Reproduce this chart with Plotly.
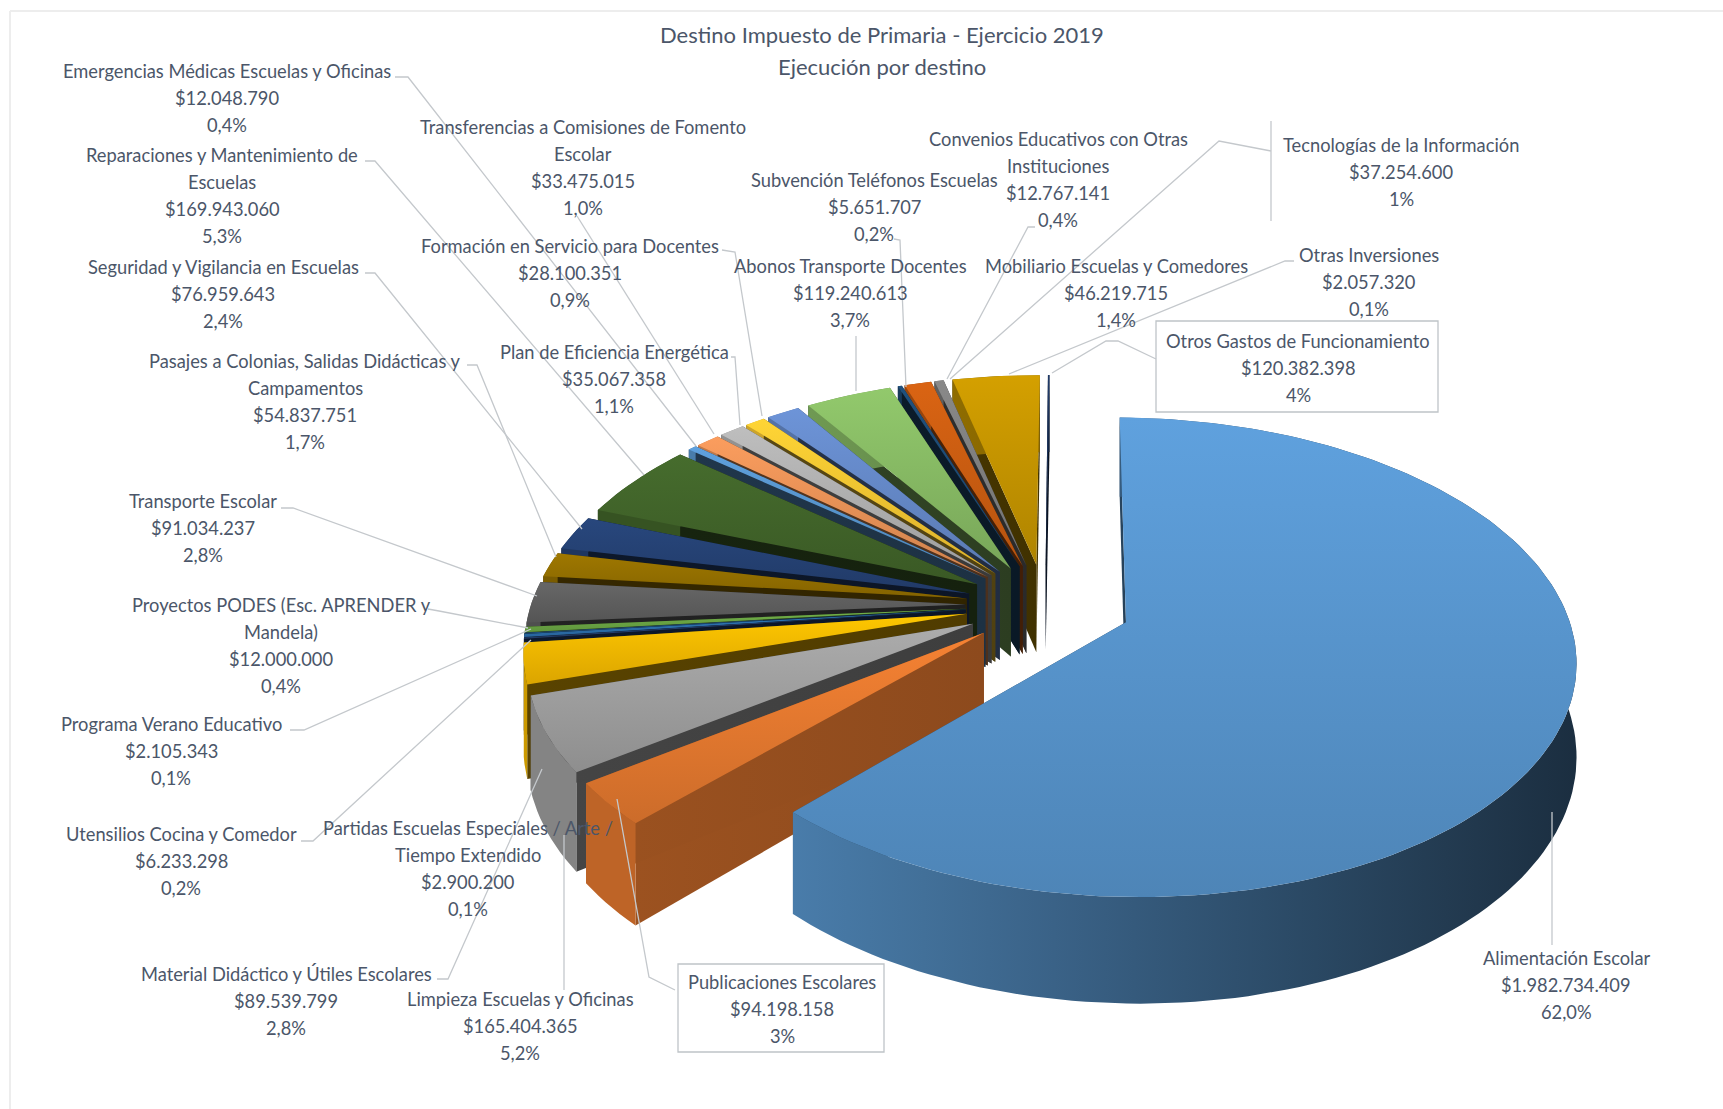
import math
import plotly.graph_objects as go

# ---- data ----
names = ["Alimentación Escolar", "Publicaciones Escolares", "Limpieza Escuelas y Oficinas",
         "Material Didáctico y Útiles Escolares", "Partidas Escuelas Especiales / Arte / Tiempo Extendido",
         "Utensilios Cocina y Comedor", "Programa Verano Educativo", "Proyectos PODES (Esc. APRENDER y Mandela)",
         "Transporte Escolar", "Pasajes a Colonias, Salidas Didácticas y Campamentos",
         "Seguridad y Vigilancia en Escuelas", "Reparaciones y Mantenimiento de Escuelas",
         "Emergencias Médicas Escuelas y Oficinas", "Transferencias a Comisiones de Fomento Escolar",
         "Plan de Eficiencia Energética", "Formación en Servicio para Docentes",
         "Mobiliario Escuelas y Comedores", "Abonos Transporte Docentes", "Subvención Teléfonos Escuelas",
         "Tecnologías de la Información", "Convenios Educativos con Otras Instituciones",
         "Otros Gastos de Funcionamiento", "Otras Inversiones"]
values = [1982734409, 94198158, 165404365, 89539799, 2900200, 6233298, 2105343, 12000000,
          91034237, 54837751, 76959643, 169943060, 12048790, 33475015, 35067358, 28100351,
          46219715, 119240613, 5651707, 37254600, 12767141, 120382398, 2057320]
colors = ["#5B9BD5", "#ED7D31", "#A5A5A5", "#FFC000", "#264478", "#2E75B6", "#255E91", "#70AD47",
          "#636363", "#997300", "#264478", "#43682B", "#5B9BD5", "#F1975A", "#B7B7B7", "#FFCD33",
          "#698ED0", "#8CC168", "#1F4E79", "#D26012", "#848484", "#CC9A00", "#1F3864"]
explode = [0.19] + [0.175] * 22
radius = [0.965] + [0.955] * 22
side_shade = [0.45, 0.66, 0.42] + [0.35] * 20

# label lines: (text lines, centre x, first-line y)
labels = [
    (["Emergencias Médicas Escuelas y Oficinas", "$12.048.790", "0,4%"], 227, 71),
    (["Reparaciones y Mantenimiento de", "Escuelas", "$169.943.060", "5,3%"], 222, 155),
    (["Seguridad y Vigilancia en Escuelas", "$76.959.643", "2,4%"], 223, 267),
    (["Pasajes a Colonias, Salidas Didácticas y", "Campamentos", "$54.837.751", "1,7%"], 305, 361),
    (["Transporte Escolar", "$91.034.237", "2,8%"], 203, 501),
    (["Transferencias a Comisiones de Fomento", "Escolar", "$33.475.015", "1,0%"], 583, 127),
    (["Formación en Servicio para Docentes", "$28.100.351", "0,9%"], 570, 246),
    (["Plan de Eficiencia Energética", "$35.067.358", "1,1%"], 614, 352),
    (["Convenios Educativos con Otras", "Instituciones", "$12.767.141", "0,4%"], 1058, 139),
    (["Tecnologías de la Información", "$37.254.600", "1%"], 1401, 145),
    (["Subvención Teléfonos Escuelas", "$5.651.707", "0,2%"], 874, 180),
    (["Abonos Transporte Docentes", "$119.240.613", "3,7%"], 850, 266),
    (["Mobiliario Escuelas y Comedores", "$46.219.715", "1,4%"], 1116, 266),
    (["Otras Inversiones", "$2.057.320", "0,1%"], 1369, 255),
    (["Otros Gastos de Funcionamiento", "$120.382.398", "4%"], 1298, 341),
    (["Proyectos PODES (Esc. APRENDER y", "Mandela)", "$12.000.000", "0,4%"], 281, 605),
    (["Programa Verano Educativo", "$2.105.343", "0,1%"], 171, 724),
    (["Utensilios Cocina y Comedor", "$6.233.298", "0,2%"], 181, 834),
    (["Partidas Escuelas Especiales / Arte /", "Tiempo Extendido", "$2.900.200", "0,1%"], 468, 828),
    (["Material Didáctico y Útiles Escolares", "$89.539.799", "2,8%"], 286, 974),
    (["Limpieza Escuelas y Oficinas", "$165.404.365", "5,2%"], 520, 999),
    (["Publicaciones Escolares", "$94.198.158", "3%"], 782, 982),
    (["Alimentación Escolar", "$1.982.734.409", "62,0%"], 1566, 958),
]
title_lines = ["Destino Impuesto de Primaria - Ejercicio 2019", "Ejecución por destino"]

# leader line routes
leaders = [
    [(395, 77), (408, 77), (696, 446)],
    [(365, 161), (375, 161), (644, 475)],
    [(365, 273), (375, 273), (582, 529)],
    [(467, 365), (477, 365), (556, 557)],
    [(281, 508), (293, 508), (537, 596)],
    [(577, 216), (714, 434)],
    [(722, 250), (735, 252), (762, 416)],
    [(731, 357), (735, 357), (740, 425)],
    [(856, 336), (856, 391)],
    [(894, 239), (900, 240), (906, 387)],
    [(1035, 227), (1028, 227), (947, 379)],
    [(1271, 151), (1219, 141), (950, 379)],
    [(1294, 261), (1285, 261), (1009, 374)],
    [(1156, 359), (1118, 341), (1106, 341), (1052, 373)],
    [(428, 609), (439, 611), (528, 628)],
    [(290, 730), (304, 730), (531, 629)],
    [(301, 841), (313, 841), (531, 640)],
    [(437, 979), (448, 979), (542, 769)],
    [(564, 990), (564, 835)],
    [(675, 990), (649, 977), (617, 799)],
    [(1552, 945), (1552, 812)],
]

# ---- projection of the tilted pie ----
CX, CY, A, B, K, DEPTH = 1045, 605, 455, 238, 0.15, 90
START = math.radians(0.6)


def project(X, Y):
    s = 1 / (1 + K * Y)
    return CX + A * X * s, CY - B * Y * s, DEPTH * s


def shade(hex_color, f):
    r, g, b = (int(hex_color[i:i + 2], 16) for i in (1, 3, 5))
    return "#%02X%02X%02X" % tuple(max(0, min(255, round(v * f))) for v in (r, g, b))


def rim_factor(x):
    if x < 800:
        return 0.8
    return max(0.3, 0.8 - 0.5 * (x - 800) / 770)


fig = go.Figure()


def poly(xs, ys, stops, kind):
    axis = ys if kind == "vertical" else xs
    start, stop = min(axis), max(axis)
    if stop - start < 1e-6:
        stop = start + 1
    fig.add_trace(go.Scatter(
        x=xs + xs[:1], y=ys + ys[:1], mode="lines", line=dict(width=0), fill="toself",
        fillgradient=dict(type=kind, start=start, stop=stop,
                          colorscale=[[i / (len(stops) - 1), c] for i, c in enumerate(stops)]),
        hoverinfo="skip", showlegend=False))


total = sum(values)
angles = [START]
for v in values:
    angles.append(angles[-1] + v / total * 2 * math.pi)


def draw_wedge(i):
    t0, t1 = angles[i], angles[i + 1]
    mid = (t0 + t1) / 2
    r = radius[i]
    ex, ey = explode[i] * math.sin(mid), explode[i] * math.cos(mid)
    n = max(2, int((t1 - t0) / math.radians(1.5)))
    rim = [project(ex + r * math.sin(t0 + (t1 - t0) * j / n), ey + r * math.cos(t0 + (t1 - t0) * j / n))
           for j in range(n + 1)]
    apex = project(ex, ey)
    col = colors[i]
    dark = shade(col, side_shade[i])
    # two cut faces
    for end in (rim[0], rim[-1]):
        poly([apex[0], end[0], end[0], apex[0]],
             [apex[1], end[1], end[1] + end[2], apex[1] + apex[2]],
             [dark, shade(col, side_shade[i] * 0.9)], "horizontal")
    # outer wall
    xs = [p[0] for p in rim] + [p[0] for p in reversed(rim)]
    ys = [p[1] for p in rim] + [p[1] + p[2] for p in reversed(rim)]
    lo, hi = min(xs), max(xs)
    stops = [shade(col, rim_factor(lo + (hi - lo) * j / 6)) for j in range(7)]
    poly(xs, ys, stops, "horizontal")
    # top face
    xs = [apex[0]] + [p[0] for p in rim]
    ys = [apex[1]] + [p[1] for p in rim]
    poly(xs, ys, [shade(col, 1.04), shade(col, 0.86)], "vertical")


order = sorted(range(1, len(values)),
               key=lambda i: -math.cos((angles[i] + angles[i + 1]) / 2))
for i in order + [0]:
    draw_wedge(i)

LINE = "#C4C8CC"
for route in leaders:
    fig.add_trace(go.Scatter(x=[p[0] for p in route], y=[p[1] for p in route], mode="lines",
                             line=dict(color=LINE, width=1.3), hoverinfo="skip", showlegend=False))

TEXT = "#4B5669"
FONT = "Lato"
annotations = []
for lines, xc, y0 in labels:
    for j, line in enumerate(lines):
        annotations.append(dict(x=xc, y=y0 + j * 27, text=line, showarrow=False, xanchor="center",
                                yanchor="middle", font=dict(family=FONT, size=18.3, color=TEXT)))
for j, line in enumerate(title_lines):
    annotations.append(dict(x=882, y=34 + j * 32, text=line, showarrow=False, xanchor="center",
                            yanchor="middle", font=dict(family=FONT, size=22, color=TEXT)))

shapes = [
    dict(type="line", x0=10, x1=1723, y0=11, y1=11, line=dict(color="#EDEDED", width=2)),
    dict(type="line", x0=10, x1=10, y0=11, y1=1109, line=dict(color="#EDEDED", width=2)),
    dict(type="rect", x0=1156, x1=1438, y0=321, y1=412, line=dict(color="#BFC4C8", width=1.3)),
    dict(type="rect", x0=678, x1=884, y0=964, y1=1052, line=dict(color="#BFC4C8", width=1.3)),
    dict(type="line", x0=1271, x1=1271, y0=121, y1=221, line=dict(color="#C4C8CC", width=1.3)),
]

fig.update_layout(
    width=1723, height=1109, margin=dict(l=0, r=0, t=0, b=0),
    paper_bgcolor="white", plot_bgcolor="white", showlegend=False, hovermode=False,
    xaxis=dict(range=[0, 1723], visible=False, fixedrange=True),
    yaxis=dict(range=[1109, 0], visible=False, fixedrange=True),
    annotations=annotations, shapes=shapes,
)
fig.write_html("out.html", config=dict(displayModeBar=False),
               post_script="document.body.style.margin='0';document.body.style.overflow='hidden';")
